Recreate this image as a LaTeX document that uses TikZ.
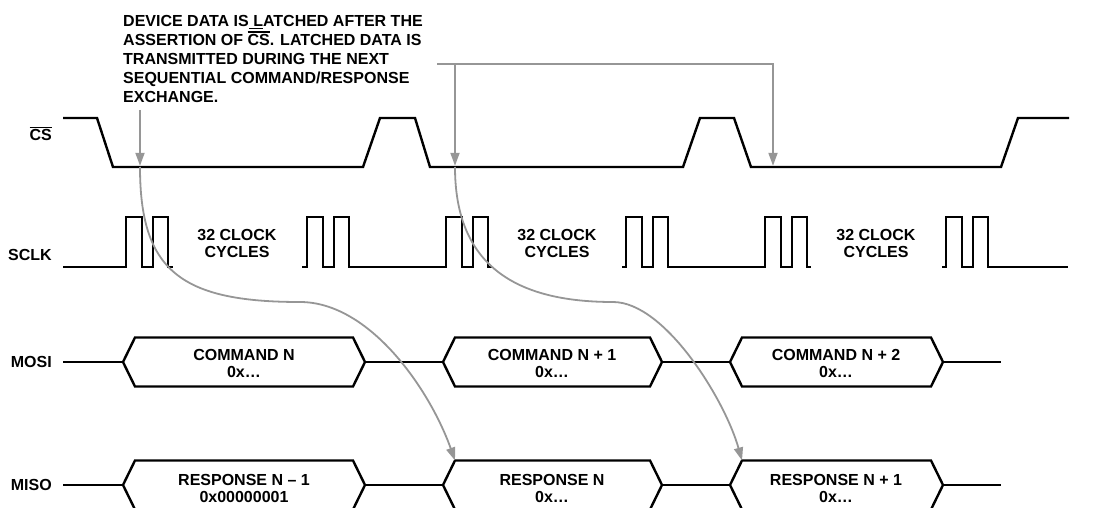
\documentclass[tikz,border=0pt]{standalone}
\usepackage{fontspec}
\setmainfont{Liberation Sans}
\usetikzlibrary{arrows.meta}
\definecolor{leader}{RGB}{150,150,150}
\newcommand{\ovl}[1]{\leavevmode\vbox{\hrule height 1.2pt\kern1.5pt\hbox{#1}}}

\begin{document}
\begin{tikzpicture}[x=1pt,y=-1pt,
  sig/.style={line width=2.4pt,line join=miter},
  lead/.style={leader,line width=1.8pt},
  arr/.style={-{Triangle[length=13pt,width=9pt]}},
  lbl/.style={font=\fontsize{16}{17}\selectfont\bfseries,inner sep=0pt,align=center}]
\useasboundingbox (0,0) rectangle (1093,508);

% signal names
\node[lbl,anchor=east] (cs) at (52,134) {\ovl{CS}};
\node[lbl,anchor=east] (sclk) at (52,255) {SCLK};
\node[lbl,anchor=east] (mosi) at (52,362) {MOSI};
\node[lbl,anchor=east] (miso) at (52,485) {MISO};

% chip select
\draw[sig] (63,118) -- (97,118) -- (113,167) -- (363,167) -- (380,118) -- (415,118) -- (430,167)
  -- (683,167) -- (700,118) -- (734,118) -- (751,167) -- (1001,167) -- (1018,118) -- (1069,118);
\coordinate (l1) at (140,167);
\coordinate (l2) at (455,167);
\coordinate (l3) at (773,167);

% clock bursts
\foreach \s/\e/\p in {63/173/{126}, 302/492/{307,446}, 622/811/{626,765}, 942/1068/{946}}
  \draw[sig] (\s,267) foreach \a in \p {-- (\a,267) -- ++(0,-50) -- ++(16,0) -- ++(0,50)
    -- ++(11,0) -- ++(0,-50) -- ++(15,0) -- ++(0,50)} -- (\e,267);
\node[lbl] (cyc1) at (237,243) {32 CLOCK\\CYCLES};
\node[lbl] (cyc2) at (557,243) {32 CLOCK\\CYCLES};
\node[lbl] (cyc3) at (876,243) {32 CLOCK\\CYCLES};

% data buses
\foreach \y in {362,485} {
  \draw[sig] (63,\y) -- (123,\y) (365,\y) -- (443,\y) (662,\y) -- (730,\y) (943,\y) -- (1001,\y);
  \foreach \l/\r in {123/365,443/662,730/943}
    \draw[sig] (\l,\y) -- ++(12,-24.5) -- (\r-12,\y-24.5) -- (\r,\y) -- (\r-12,\y+24.5)
      -- (\l+12,\y+24.5) -- cycle;
}
\node[lbl] (cmd0) at (244,363) {COMMAND N\\0x…};
\node[lbl] (cmd1) at (552,363) {COMMAND N + 1\\0x…};
\node[lbl] (cmd2) at (836,363) {COMMAND N + 2\\0x…};
\node[lbl] (rsp0) at (244,488) {RESPONSE N – 1\\0x00000001};
\node[lbl] (rsp1) at (552,488) {RESPONSE N\\0x…};
\node[lbl] (rsp2) at (836,488) {RESPONSE N + 1\\0x…};
\coordinate (r1) at (455,460.5);
\coordinate (r2) at (742,460.5);

% note and leaders
\node[lbl,align=left,anchor=north west,font=\fontsize{16}{19}\selectfont\bfseries] (note) at (123,15)
  {DEVICE DATA IS\underline{ L}ATCHED AFTER THE\\ASSERTION OF \ovl{CS}. LATCHED DATA IS\\
   TRANSMITTED DURING THE NEXT\\SEQUENTIAL COMMAND/RESPONSE\\EXCHANGE.};
\coordinate (n1) at (140,110);
\coordinate (n2) at (437,64);
\draw[lead,arr,shorten >=1.2pt] (n1) -- (l1);
\draw[lead,arr,shorten >=1.2pt] (n2) -| (l3);
\draw[lead,arr,shorten >=1.2pt] (n2 -| l2) -- (l2);
\draw[lead,arr] (l1) .. controls (140,270) and (180,302) .. (300,302)
  .. controls (370,302) and (430,390) .. (r1);
\draw[lead,arr] (l2) .. controls (455,265) and (515,302) .. (613,302)
  .. controls (665,302) and (725,400) .. (r2);
\end{tikzpicture}
\end{document}
